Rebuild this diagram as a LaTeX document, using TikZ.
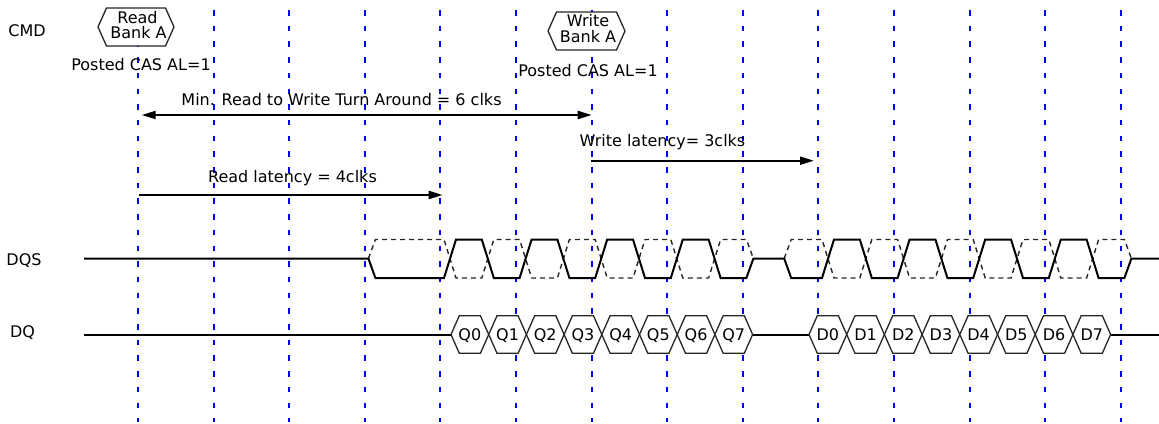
\documentclass[tikz,border=0pt]{standalone}
\usepackage{fontspec}
\setmainfont{DejaVu Sans}
\usetikzlibrary{arrows.meta}
\begin{document}
\begin{tikzpicture}[x=1pt,y=-1pt,
  >={Triangle[length=14pt,width=8pt]},
  txt/.style={inner sep=0pt, anchor=base, font=\fontsize{16}{16}\selectfont},
  gridline/.style={blue, line width=2pt, dash pattern=on 5.5pt off 10.2pt},
  sig/.style={line width=2pt, line join=miter},
  ghost/.style={line width=1.4pt, dash pattern=on 5pt off 4pt, black!85},
  hexline/.style={line width=1.3pt, draw=black!85, fill=white},
  span/.style={line width=2.2pt},
]
\useasboundingbox (0,0) rectangle (1159,423);
\def\yH{239.5}\def\yM{258.5}\def\yL{278}\def\yQ{334.5}
% clock grid
\foreach \k in {0,...,13}{
  \coordinate (gt\k) at ({138+75.6*\k},10);
  \coordinate (gb\k) at ({138+75.6*\k},422);
  \draw[gridline] (gt\k) -- (gb\k);
}
% labels
\node[txt] (cmd) at (27,36) {CMD};
\node[txt] (dqs) at (24,265.5) {DQS};
\node[txt] (dq) at (22.5,337.5) {DQ};
% command hexagons
\draw[hexline] (98,27) -- (106.5,8) -- (165.5,8) -- (174,27) -- (165.5,46) -- (106.5,46) -- cycle;
\node[txt] (rd1) at (137.5,23.3) {Read};
\node[txt] (rd2) at (138.5,38.3) {Bank A};
\draw[hexline] (548,31) -- (556.5,12) -- (616.5,12) -- (625,31) -- (616.5,50) -- (556.5,50) -- cycle;
\node[txt] (wr1) at (588,26.7) {Write};
\node[txt] (wr2) at (588,42.7) {Bank A};
\node[txt] (pc1) at (141,70) {Posted CAS AL=1};
\node[txt] (pc2) at (588,76.7) {Posted CAS AL=1};
% timing spans
\node[txt] (mrw) at (341.5,105) {Min. Read to Write Turn Around = 6 clks};
\node[txt] (wl) at (662.5,146.5) {Write latency= 3clks};
\node[txt] (rl) at (292.5,182) {Read latency = 4clks};
\coordinate (mrwL) at (141.7,115); \coordinate (mrwR) at (591.7,115);
\coordinate (wlL) at (590.7,160.7); \coordinate (wlR) at (814,160.7);
\coordinate (rlL) at (139,195); \coordinate (rlR) at (442.7,195);
\draw[span,<->] (mrwL) -- (mrwR);
\draw[span,->] (wlL) -- (wlR);
\draw[span,->] (rlL) -- (rlR);
% DQS complement (dashed)
\draw[ghost] (368.4,\yM) -- (375.4,\yH)
  \foreach \k in {4,...,7}{ -- ({138+75.6*\k+3.6},\yH) -- ({138+75.6*\k+15.6},\yL) -- ({138+75.6*\k+41.4},\yL) -- ({138+75.6*\k+53.4},\yH) }
  -- (746.4,\yH) -- (753.4,\yM);
\draw[ghost] (784.2,\yM) -- (791.2,\yH)
  \foreach \k in {9,...,12}{ -- ({138+75.6*\k+3.6},\yH) -- ({138+75.6*\k+15.6},\yL) -- ({138+75.6*\k+41.4},\yL) -- ({138+75.6*\k+53.4},\yH) }
  -- (1124.4,\yH) -- (1131.4,\yM);
% DQS solid
\draw[sig] (84,\yM) -- (368.4,\yM) -- (375.4,\yL)
  \foreach \k in {4,...,7}{ -- ({138+75.6*\k+3.6},\yL) -- ({138+75.6*\k+15.6},\yH) -- ({138+75.6*\k+41.4},\yH) -- ({138+75.6*\k+53.4},\yL) }
  -- (746.4,\yL) -- (753.4,\yM) -- (784.2,\yM) -- (791.2,\yL)
  \foreach \k in {9,...,12}{ -- ({138+75.6*\k+3.6},\yL) -- ({138+75.6*\k+15.6},\yH) -- ({138+75.6*\k+41.4},\yH) -- ({138+75.6*\k+53.4},\yL) }
  -- (1124.4,\yL) -- (1131.4,\yM) -- (1159,\yM);
% DQ
\draw[sig] (84,\yQ) -- (451,\yQ);
\draw[sig] (752.6,\yQ) -- (809,\yQ);
\draw[sig] (1110.6,\yQ) -- (1159,\yQ);
\foreach \i in {0,...,7}{
  \pgfmathsetmacro\xl{451+37.7*\i}
  \draw[hexline] (\xl,\yQ) -- ++(8.3,-18.8) -- ++(21.1,0) -- ++(8.3,18.8) -- ++(-8.3,18.8) -- ++(-21.1,0) -- cycle;
  \node[txt] (q\i) at ({\xl+18.85},340.3) {Q\i};
  \pgfmathsetmacro\xd{809+37.7*\i}
  \draw[hexline] (\xd,\yQ) -- ++(8.3,-18.8) -- ++(21.1,0) -- ++(8.3,18.8) -- ++(-8.3,18.8) -- ++(-21.1,0) -- cycle;
  \node[txt] (d\i) at ({\xd+18.85},340.3) {D\i};
}
\end{tikzpicture}
\end{document}
